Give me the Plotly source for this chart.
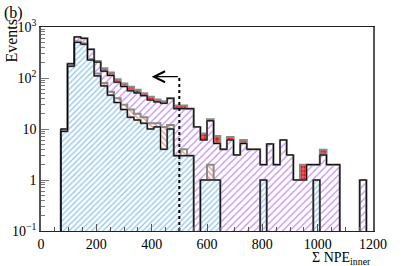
import math
import plotly.graph_objects as go

# ---- binning (x axis: sum NPE inner, bins of 24) ----
bin_width = 24
n_bins = 50
edges = [i * bin_width for i in range(n_bins + 1)]
centers = [e + bin_width / 2 for e in edges[:-1]]

# ---- stacked components (events per bin) ----
blue = [0, 0, 0, 9, 170, 500, 460, 225, 110, 70,
        46, 33, 24, 17, 15, 13, 10, 11, 4, 10,
        3, 3, 3, 0, 1, 1, 1, 0, 0, 0,
        0, 0, 0, 1, 0, 0, 0, 0, 0, 0,
        0, 1, 0, 0, 0, 0, 0, 0, 0, 0]
orange = [0, 0, 0, 0, 5, 20, 20, 10, 12, 10,
          8, 7, 6, 7, 5, 4, 3, 2, 7, 2,
          0, 1, 0, 0, 0, 1, 0, 0, 0, 0,
          0, 0, 0, 0, 0, 0, 0, 0, 0, 0,
          0, 0, 0, 0, 0, 0, 0, 0, 0, 0]
purple = [0, 0, 0, 1, 15, 120, 120, 130, 83, 56,
          58, 43, 38, 32, 31, 28, 24, 21, 21, 28,
          22, 21, 22, 11, 5.1, 12.5, 4.2, 4, 6.1, 3.1,
          5.2, 4, 4, 1, 5.1, 2, 6.1, 3.1, 1, 1,
          2, 1, 3.1, 2, 2, 0, 0, 0, 1, 0]
red = [0, 0, 0, 0, 0, 0, 0, 0, 10, 19,
       16, 12, 10, 11, 8, 5, 6, 4, 3, 0,
       4, 4, 0, 0, 2.1, 1, 2.1, 0, 0.9, 0,
       0.9, 0, 0, 0, 0, 0, 0, 0, 0, 1,
       0, 0, 0.8, 0, 0, 0, 0, 0, 0, 0]

cut_value = 500          # dotted cut line
arrow_to = 400           # arrow head position
arrow_level = 106        # arrow height (events)

x_ticks = [0, 200, 400, 600, 800, 1000, 1200]
y_ticks = [0.1, 1, 10, 100, 1000]
y_ticktext = ["10<sup>\u22121</sup>", "1", "10", "10<sup>2</sup>", "10<sup>3</sup>"]

for arr in (blue, orange, purple, red):
    assert len(arr) == n_bins

# cumulative levels
c1 = blue
c2 = [a + b for a, b in zip(c1, orange)]
c3 = [a + b for a, b in zip(c2, purple)]
c4 = [a + b for a, b in zip(c3, red)]

TINY = 1e-3


def step_xy(vals):
    xs = [edges[0]] + edges[:-1] + [edges[-1]]
    ys = [TINY] + [v if v > 0 else TINY for v in vals] + [TINY]
    return xs, ys


fig = go.Figure()

styles = [
    (blue, "/", "#8cc4ee", "white", 4, 0.3),
    (orange, "\\", "#f08a6e", "white", 4, 0.3),
    (purple, "/", "#c58cf0", "white", 5, 0.25),
    (red, "+", "white", "#ee1111", 4, 0.15),
]
for vals, shp, fg, bg, sz, sol in styles:
    fig.add_trace(go.Bar(
        x=centers, y=vals, width=bin_width,
        marker=dict(color=bg, line=dict(width=0),
                    pattern=dict(shape=shp, fgcolor=fg, bgcolor=bg,
                                 size=sz, solidity=sol, fillmode="replace")),
        hoverinfo="skip", showlegend=False))

# gray outlines of each stacked component
for lev in (c1, c2, c3, c4):
    xs, ys = step_xy(lev)
    fig.add_trace(go.Scatter(x=xs, y=ys, mode="lines", line_shape="hv",
                             line=dict(color="#8a8a8a", width=2),
                             hoverinfo="skip", showlegend=False))
# black outlines
for lev in (c1, c3):
    xs, ys = step_xy(lev)
    fig.add_trace(go.Scatter(x=xs, y=ys, mode="lines", line_shape="hv",
                             line=dict(color="black", width=1),
                             hoverinfo="skip", showlegend=False))

# dotted cut line
fig.add_trace(go.Scatter(x=[cut_value, cut_value], y=[0.1, arrow_level],
                         mode="lines", line=dict(color="black", width=2, dash="dot"),
                         hoverinfo="skip", showlegend=False))

minor_y = [k * 10 ** e for e in range(-1, 3) for k in range(2, 10)]

fig.update_layout(
    template="none",
    width=415, height=266,
    margin=dict(l=41, r=42, t=27, b=35, autoexpand=False),
    barmode="stack", bargap=0,
    plot_bgcolor="white", paper_bgcolor="white",
    showlegend=False,
    font=dict(family="Liberation Serif", size=14, color="black"),
    xaxis=dict(range=[0, 1200], autorange=False, tickvals=x_ticks, ticks="inside", ticklen=7,
               tickcolor="#555", showline=True, mirror=True, linecolor="#222",
               linewidth=1.2, showgrid=False, zeroline=False, automargin=False,
               minor=dict(ticks="inside", ticklen=4, dtick=50, tickcolor="#555")),
    yaxis=dict(type="log", range=[-1, 3], autorange=False, tickvals=y_ticks, ticktext=y_ticktext,
               ticks="inside", ticklen=8, tickcolor="#777", showline=True, mirror=True,
               linecolor="#555", linewidth=1.5, showgrid=False, zeroline=False,
               automargin=False,
               minor=dict(tickvals=minor_y, ticks="inside", ticklen=4, tickcolor="#777")),
    annotations=[
        dict(text="(b)", xref="paper", yref="paper", x=-0.118, y=1.125,
             xanchor="left", yanchor="top", showarrow=False, font=dict(size=16)),
        dict(text="Events", xref="paper", yref="paper", x=-0.088, y=1.05,
             xanchor="center", yanchor="top", textangle=-90, showarrow=False,
             font=dict(size=16)),
        dict(text="\u03a3 NPE<sub>inner</sub>", xref="paper", yref="paper", x=1.0, y=-0.085,
             xanchor="right", yanchor="top", showarrow=False, font=dict(size=14)),
        dict(text="", x=arrow_to, y=math.log10(arrow_level), xref="x", yref="y",
             ax=cut_value, ay=math.log10(arrow_level), axref="x", ayref="y",
             showarrow=True, arrowhead=5, arrowsize=1.8, arrowwidth=1.2, arrowcolor="black"),
    ],
)

fig.write_html("out.html", config={"displayModeBar": False},
               post_script="document.body.style.margin='0';document.body.style.overflow='hidden';")
